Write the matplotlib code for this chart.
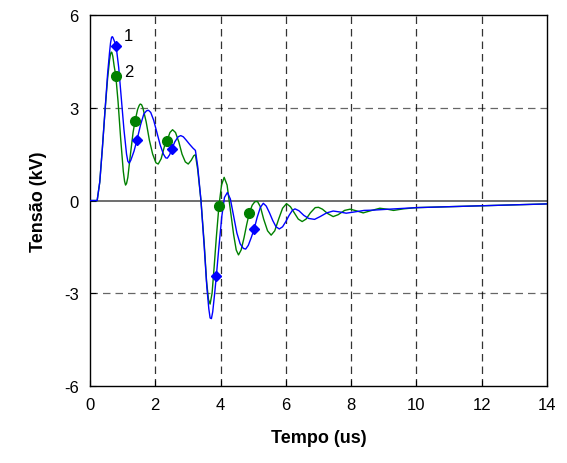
from __future__ import annotations

import matplotlib

matplotlib.use("Agg")
import matplotlib.pyplot as plt

# Curve 1 (blue) - time in us, voltage in kV
time_1 = [
    0.0, 0.22, 0.3, 0.38, 0.46, 0.54, 0.6, 0.63, 0.66, 0.68, 0.7, 0.73, 0.8, 0.88, 0.96,
    1.04, 1.12, 1.16, 1.2, 1.25, 1.35, 1.44, 1.55, 1.65, 1.73, 1.79, 1.86, 1.95,
    2.05, 2.15, 2.25, 2.32, 2.37, 2.44, 2.51, 2.6, 2.7, 2.78, 2.86, 2.95, 3.05,
    3.15, 3.23, 3.3, 3.4, 3.5, 3.58, 3.64, 3.68, 3.72, 3.76, 3.82, 3.87, 3.95, 4.04,
    4.12, 4.21, 4.3, 4.4, 4.5, 4.6, 4.7, 4.77, 4.85, 4.94, 5.03, 5.12, 5.22,
    5.31, 5.4, 5.5, 5.6, 5.7, 5.8, 5.9, 6.0, 6.1, 6.2, 6.28, 6.4, 6.55, 6.7,
    6.88, 7.05, 7.25, 7.45, 7.65, 7.85, 8.1, 8.4, 8.7, 9.0, 9.5, 10.0, 11.0,
    12.0, 13.0, 14.0,
]
volt_1 = [
    0.0, 0.0, 0.6, 1.7, 2.9, 4.1, 4.8, 5.1, 5.27, 5.3, 5.28, 5.2, 5.0, 4.3, 3.3,
    2.3, 1.5, 1.27, 1.21, 1.3, 1.6, 1.96, 2.45, 2.8, 2.9, 2.92, 2.85, 2.6,
    2.2, 1.8, 1.5, 1.38, 1.37, 1.48, 1.68, 1.9, 2.06, 2.1, 2.06, 1.95, 1.82,
    1.7, 1.62, 1.1, 0.0, -1.5, -2.8, -3.5, -3.8, -3.82, -3.6, -3.0, -2.45, -1.5, -0.5,
    0.1, 0.26, 0.05, -0.5, -1.05, -1.4, -1.55, -1.57, -1.45, -1.2, -0.92, -0.55, -0.22,
    -0.09, -0.18, -0.4, -0.65, -0.85, -0.92, -0.85, -0.68, -0.48, -0.32, -0.27, -0.33, -0.48, -0.58,
    -0.61, -0.52, -0.4, -0.34, -0.37, -0.41, -0.37, -0.32, -0.31, -0.29, -0.26, -0.23, -0.2,
    -0.17, -0.14, -0.11,
]

# Curve 2 (green)
time_2 = [
    0.0, 0.22, 0.3, 0.38, 0.46, 0.54, 0.6, 0.63, 0.65, 0.67, 0.7, 0.74, 0.79, 0.86, 0.94,
    1.02, 1.06, 1.09, 1.12, 1.16, 1.24, 1.32, 1.38, 1.46, 1.51, 1.54, 1.58, 1.62, 1.72, 1.82, 1.92,
    2.02, 2.09, 2.18, 2.28, 2.36, 2.45, 2.53, 2.62, 2.72, 2.82, 2.92, 3.01,
    3.1, 3.18, 3.23, 3.3, 3.4, 3.5, 3.57, 3.63, 3.68, 3.74, 3.8, 3.87, 3.95,
    4.03, 4.11, 4.2, 4.3, 4.4, 4.48, 4.55, 4.63, 4.72, 4.8, 4.88, 4.97, 5.05,
    5.13, 5.22, 5.32, 5.44, 5.55, 5.66, 5.78, 5.9, 6.02, 6.14, 6.26, 6.38,
    6.5, 6.62, 6.75, 6.9, 7.0, 7.12, 7.28, 7.45, 7.6, 7.8, 7.97, 8.15, 8.37,
    8.6, 8.88, 9.1, 9.3, 9.6, 10.0, 11.0, 12.0, 13.0, 14.0,
]
volt_2 = [
    0.0, 0.0, 0.6, 1.7, 2.9, 3.95, 4.55, 4.74, 4.8, 4.79, 4.66, 4.35, 4.04, 3.2, 2.0,
    0.95, 0.62, 0.5, 0.55, 0.75, 1.5, 2.2, 2.57, 2.95, 3.08, 3.12, 3.1, 3.0, 2.55, 1.95, 1.5,
    1.22, 1.18, 1.35, 1.75, 1.93, 2.2, 2.29, 2.2, 1.9, 1.5, 1.25, 1.18,
    1.3, 1.45, 1.48, 1.0, 0.0, -1.4, -2.6, -3.2, -3.35, -3.0, -2.2, -1.2, -0.18,
    0.5, 0.75, 0.5, -0.3, -1.1, -1.6, -1.76, -1.6, -1.2, -0.78, -0.41, -0.15, -0.04,
    -0.03, -0.2, -0.6, -0.98, -1.12, -0.98, -0.6, -0.25, -0.1, -0.2, -0.4, -0.6,
    -0.68, -0.6, -0.4, -0.23, -0.22, -0.28, -0.42, -0.52, -0.46, -0.32, -0.28, -0.33, -0.4,
    -0.33, -0.25, -0.28, -0.32, -0.27, -0.23, -0.2, -0.17, -0.14, -0.11,
]

# Marker positions on each curve
marker_time_1 = [0.8, 1.44, 2.51, 3.87, 5.03]
marker_volt_1 = [5.0, 1.96, 1.68, -2.45, -0.92]
marker_time_2 = [0.79, 1.38, 2.36, 3.95, 4.88]
marker_volt_2 = [4.04, 2.57, 1.93, -0.18, -0.41]

x_ticks = [0, 2, 4, 6, 8, 10, 12, 14]
y_ticks = [-6, -3, 0, 3, 6]

BLUE = "#0000ff"
GREEN = "#008000"


def main() -> None:
    plt.rcParams["font.family"] = ["Liberation Sans", "DejaVu Sans"]
    plt.rcParams["axes.unicode_minus"] = False

    fig = plt.figure(figsize=(5.67, 4.64), dpi=100)
    ax = fig.add_axes([0.1587, 0.1659, 0.806, 0.7996])

    for x in x_ticks[1:-1]:
        ax.axvline(x, color="black", linestyle=(0, (6, 4)), linewidth=0.9, alpha=0.8, zorder=1)
    for y in (-3, 3):
        ax.axhline(y, color="black", linestyle=(0, (6, 4)), linewidth=0.9, alpha=0.6, zorder=1)
    ax.axhline(0, color="#555555", linewidth=1.2, zorder=1)

    ax.plot(time_2, volt_2, color=GREEN, linewidth=1.0, zorder=2)
    ax.plot(time_1, volt_1, color=BLUE, linewidth=1.0, zorder=3)
    ax.plot(marker_time_2, marker_volt_2, linestyle="none", marker="o",
            markersize=7, color=GREEN, zorder=4)
    ax.plot(marker_time_1, marker_volt_1, linestyle="none", marker="D",
            markersize=5.5, color=BLUE, zorder=5)

    ax.text(1.19, 5.33, "1", fontsize=12, ha="center", va="center")
    ax.text(1.19, 4.16, "2", fontsize=12, ha="center", va="center")

    ax.set_xlim(0, 14)
    ax.set_ylim(-6, 6)
    ax.set_xticks(x_ticks)
    ax.set_yticks(y_ticks)
    ax.tick_params(direction="in", length=4, labelsize=12, pad=8)
    for spine in ax.spines.values():
        spine.set_linewidth(1.0)

    ax.set_xlabel("Tempo (us)", fontsize=13, fontweight="bold", labelpad=12)
    ax.set_ylabel("Tensão (kV)", fontsize=13, fontweight="bold", labelpad=12)

    fig.savefig("out.png", dpi=100)
    plt.close(fig)


if __name__ == "__main__":
    main()
